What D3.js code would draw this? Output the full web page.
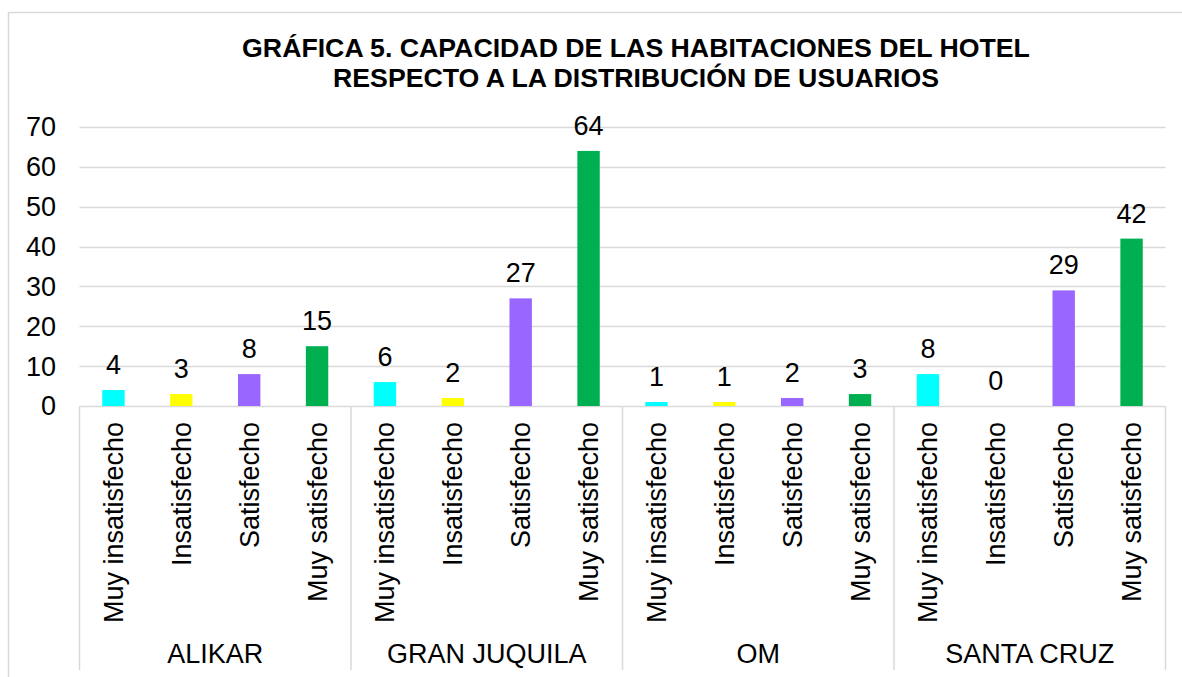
<!DOCTYPE html>
<html><head><meta charset="utf-8">
<script src="https://cdn.jsdelivr.net/npm/d3@7"></script>
<style>body{margin:0;background:#fff}svg{display:block}text{font-family:"Liberation Sans",Arial,sans-serif}</style>
</head><body><svg id="c" width="1182" height="677"></svg>
<script>
const hotels = ["ALIKAR", "GRAN JUQUILA", "OM", "SANTA CRUZ"];
const levels = ["Muy insatisfecho", "Insatisfecho", "Satisfecho", "Muy satisfecho"];
const values = [
  [4, 3, 8, 15],
  [6, 2, 27, 64],
  [1, 1, 2, 3],
  [8, 0, 29, 42]
];
const colors = ["#00FFFF", "#FFFF00", "#9966FF", "#00B050"];
const yTicks = [0, 10, 20, 30, 40, 50, 60, 70];
const titleLines = ["GRÁFICA 5. CAPACIDAD DE LAS HABITACIONES DEL HOTEL", "RESPECTO A LA DISTRIBUCIÓN DE USUARIOS"];

(function () {
const svg = d3.select("#c");
const pLeft = 79.5, pRight = 1165.5, pTop = 127, pBottom = 406;
const grey = "#d9d9d9";
const fs = 27;

svg.append("rect").attr("x", 8.5).attr("y", 12.5).attr("width", 1200).attr("height", 700)
  .attr("fill", "none").attr("stroke", grey).attr("stroke-width", 1.5);

svg.selectAll("text.title").data(titleLines).join("text")
  .attr("class", "title")
  .attr("x", 636).attr("y", (d, i) => 57 + i * 30)
  .attr("text-anchor", "middle").attr("font-size", 26.7).attr("font-weight", "bold").attr("fill", "#000")
  .text(d => d);

const y = d3.scaleLinear().domain([0, 70]).range([pBottom, pTop]);
const xG = d3.scaleBand().domain(hotels).range([pLeft, pRight]).padding(0);
const xC = d3.scaleBand().domain(levels).range([0, xG.bandwidth()]).paddingInner(0.67).paddingOuter(0.335);

svg.append("g").selectAll("line").data(yTicks).join("line")
  .attr("x1", pLeft).attr("x2", pRight)
  .attr("y1", d => Math.round(y(d)) + 0.5).attr("y2", d => Math.round(y(d)) + 0.5)
  .attr("stroke", grey).attr("stroke-width", 1.5);

svg.append("g").selectAll("text").data(yTicks).join("text")
  .attr("x", 56).attr("y", d => y(d)).attr("dy", "0.35em")
  .attr("text-anchor", "end").attr("font-size", fs).attr("fill", "#000")
  .text(d => d);

const seps = hotels.map(h => xG(h)).concat([pRight]);
svg.append("g").selectAll("line").data(seps).join("line")
  .attr("x1", d => d).attr("x2", d => d).attr("y1", pBottom).attr("y2", 670)
  .attr("stroke", grey).attr("stroke-width", 1.5);

const groups = svg.append("g").selectAll("g").data(hotels).join("g")
  .attr("transform", h => `translate(${xG(h)},0)`);

groups.selectAll("rect").data((h, i) => values[i].map((v, j) => ({v, j}))).join("rect")
  .attr("x", d => xC(levels[d.j])).attr("width", xC.bandwidth())
  .attr("y", d => y(d.v)).attr("height", d => pBottom - y(d.v))
  .attr("fill", d => colors[d.j]);

groups.selectAll("text.val").data((h, i) => values[i].map((v, j) => ({v, j}))).join("text")
  .attr("class", "val")
  .attr("x", d => xC(levels[d.j]) + xC.bandwidth() / 2).attr("y", d => y(d.v) - 16)
  .attr("text-anchor", "middle").attr("font-size", fs).attr("fill", "#000")
  .text(d => d.v);

groups.selectAll("text.cat").data(levels).join("text")
  .attr("class", "cat")
  .attr("transform", d => `translate(${xC(d) + xC.bandwidth() / 2},422) rotate(-90)`)
  .attr("dy", "0.35em").attr("text-anchor", "end").attr("font-size", fs).attr("fill", "#000")
  .text(d => d);

groups.append("text")
  .attr("x", xG.bandwidth() / 2).attr("y", 663)
  .attr("text-anchor", "middle").attr("font-size", fs).attr("fill", "#000")
  .text(h => h);
})();
</script></body></html>
